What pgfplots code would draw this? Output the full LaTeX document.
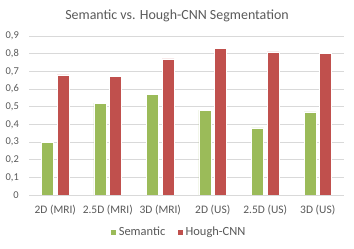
\documentclass[border=0pt]{standalone}
\usepackage{pgfplots}
\pgfplotsset{compat=1.18}
\usepackage{fontspec}
\setmainfont{Carlito}
\definecolor{semg}{HTML}{9BBB59}
\definecolor{hcnn}{HTML}{C0504D}
\definecolor{gridc}{HTML}{D9D9D9}
\definecolor{txt}{HTML}{595959}
\begin{document}
\begin{tikzpicture}
\useasboundingbox (-29bp,-54bp) rectangle (325bp,195bp);
\begin{axis}[
  at={(0,0)}, anchor=south west,
  scale only axis, width=315bp, height=159bp,
  ybar=3.5bp, bar width=12bp,
  xmin=-0.5, xmax=5.5, ymin=0, ymax=0.9,
  xtick=data,
  xticklabels={2D (MRI),2.5D (MRI),3D (MRI),2D (US),2.5D (US),3D (US)},
  ytick={0,0.1,...,0.9},
  yticklabel={\ifdim\tick pt<0.01pt 0\else\pgfmathprintnumber[use comma,fixed,fixed zerofill,precision=1]{\tick}\fi},
  /pgf/number format/assume math mode=true,
  axis lines=left,
  axis line style={draw=none},
  major tick length=0pt,
  ymajorgrids, grid style={gridc, line width=0.8pt},
  y tick label style={font=\fontsize{10.5}{11}\selectfont, color=txt, anchor=east, inner sep=0pt, xshift=-10bp},
  x tick label style={font=\fontsize{11.5}{12}\selectfont, color=txt, anchor=center, inner sep=0pt, yshift=-15bp},
  legend style={at={(0.476,-0.233)}, anchor=center, draw=none, legend columns=2,
    font=\fontsize{12.5}{13}\selectfont, text=txt,
    /tikz/every even column/.append style={column sep=10bp}},
  legend image code/.code={\fill[#1] (0bp,-3bp) rectangle (6bp,3bp);},
  clip=false,
]
\addplot[fill=semg, draw=white, line width=0.4pt] coordinates {(0,0.30) (1,0.52) (2,0.57) (3,0.48) (4,0.38) (5,0.47)};
\addplot[fill=hcnn, draw=white, line width=0.4pt] coordinates {(0,0.68) (1,0.67) (2,0.77) (3,0.83) (4,0.81) (5,0.80)};
\legend{Semantic,Hough-CNN}
\draw[gridc, line width=0.8pt] (rel axis cs:0,0) -- (rel axis cs:1,0);
\end{axis}
\node[text=txt, font=\fontsize{14}{15}\selectfont] at (148bp,179bp) {Semantic vs. Hough-CNN Segmentation};
\end{tikzpicture}
\end{document}
